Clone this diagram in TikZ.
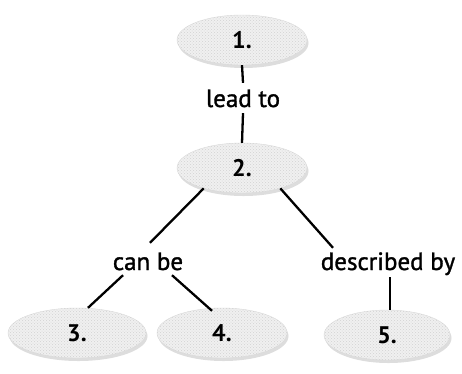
\documentclass[tikz,border=0pt]{standalone}
\usepackage{fontspec}
\setmainfont{PT Sans}
\newfontfamily\lblfont[FakeBold=1.3]{PT Sans}
\usetikzlibrary{shapes.geometric,shadows,patterns}
\begin{document}
\begin{tikzpicture}[x=1pt,y=-1pt,
  disc/.style={ellipse, fill=gray!12, draw=gray!30, line width=0.4pt,
    minimum width=130pt, minimum height=50pt, inner sep=0pt,
    drop shadow={fill=gray!45, shadow xshift=1.5pt, shadow yshift=-3pt, opacity=0.6},
    postaction={pattern=crosshatch dots, pattern color=gray!35},
    font=\fontsize{24}{28}\selectfont\bfseries},
  lbl/.style={font=\fontsize{25}{30}\lblfont, inner sep=0pt,
    text height=15pt, text depth=5pt},
  conn/.style={line width=2.3pt, black}]
\useasboundingbox (0,0) rectangle (462,373);
\node[disc] (e1) at (242,40) {1.};
\node[lbl] (lt) at (243,102) {lead to};
\node[disc] (e2) at (242,168) {2.};
\node[lbl] (cb) at (148,265) {can be};
\node[lbl] (db) at (388,265) {described by};
\node[disc, minimum width=138pt] (e3) at (77,333) {3.};
\node[disc] (e4) at (222,333) {4.};
\node[disc, minimum width=126pt] (e5) at (387,335) {5.};
\draw[conn] (e1.south) -- ([yshift=9pt]lt.north);
\draw[conn] ([yshift=-1pt]lt.south) -- (e2.north);
\draw[conn] (e2.208) -- ([shift={(2pt,12pt)}]cb.north);
\draw[conn] (e2.-28) -- ([shift={(-55pt,7pt)}]db.north);
\draw[conn] ([xshift=-25pt]cb.south) -- ([xshift=11pt]e3.north);
\draw[conn] ([xshift=24pt]cb.south) -- ([shift={(-10pt,-3pt)}]e4.north);
\draw[conn] ([shift={(2pt,-2pt)}]db.south) -- ([xshift=3pt]e5.north);
\end{tikzpicture}
\end{document}
